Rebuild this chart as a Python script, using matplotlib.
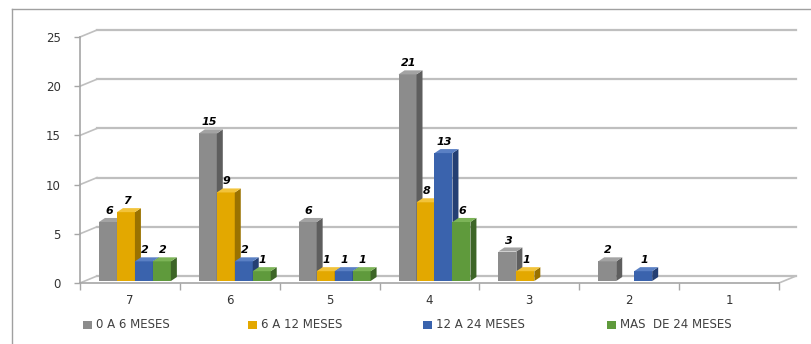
import matplotlib
matplotlib.use("Agg")
import matplotlib.pyplot as plt
from matplotlib.patches import Polygon, Rectangle
from matplotlib.lines import Line2D

# months-of-treatment counts per score group
categories = ["7", "6", "5", "4", "3", "2", "1"]
series_names = ["0 A 6 MESES", "6 A 12 MESES", "12 A 24 MESES", "MAS  DE 24 MESES"]
m0_6 = [6, 15, 6, 21, 3, 2, 0]
m6_12 = [7, 9, 1, 8, 1, 0, 0]
m12_24 = [2, 2, 1, 13, 0, 1, 0]
m24_plus = [2, 1, 1, 6, 0, 0, 0]
yticks = [0, 5, 10, 15, 20, 25]

series = [m0_6, m6_12, m12_24, m24_plus]
front = ["#8c8c8c", "#e3a800", "#3a63ad", "#5f9a3c"]
side = ["#5e5e5e", "#9a7200", "#243f73", "#3d6527"]
top = ["#a3a3a3", "#f2c33a", "#5a80c4", "#7cb457"]

W, H = 811, 344
fig = plt.figure(figsize=(W / 100, H / 100), dpi=100)
ax = fig.add_axes([80 / W, (H - 283) / H, 699 / W, 246 / H])
ax.set_xlim(-0.5, 6.5)
ax.set_ylim(0, 25)

grid_c = "#bfbfbf"
# back wall offset (data units) and bar depth
wdx, wdy = 0.17, 0.71
bdx, bdy = 0.06, 0.41
bx0, by0 = 0.05, 0.2

for v in yticks:
    ax.plot([-0.5 + wdx, 6.5 + wdx], [v + wdy, v + wdy], color=grid_c, lw=1.6,
            clip_on=False, zorder=1)
    ax.plot([-0.5, -0.5 + wdx], [v, v + wdy], color=grid_c, lw=1.2,
            clip_on=False, zorder=1)
ax.plot([6.5, 6.5 + wdx], [0, wdy], color=grid_c, lw=1.2, clip_on=False, zorder=1)

bw = 0.18
offsets = [-0.27, -0.09, 0.09, 0.27]
z = 3
for gi in range(len(categories)):
    for si, vals in enumerate(series):
        v = vals[gi]
        if v == 0:
            continue
        xc = gi + offsets[si] + bx0
        x0, x1 = xc - bw / 2, xc + bw / 2
        y0, y1 = by0, by0 + v
        ax.bar(xc, v, width=bw, bottom=by0, color=front[si], zorder=z, clip_on=False)
        ax.add_patch(Polygon([(x1, y0), (x1 + bdx, y0 + bdy), (x1 + bdx, y1 + bdy), (x1, y1)],
                             closed=True, facecolor=side[si], edgecolor="none",
                             zorder=z, clip_on=False))
        ax.add_patch(Polygon([(x0, y1), (x0 + bdx, y1 + bdy), (x1 + bdx, y1 + bdy), (x1, y1)],
                             closed=True, facecolor=top[si], edgecolor="none",
                             zorder=z, clip_on=False))
        ax.annotate(str(v), (xc, y1), xytext=(1, 11), textcoords="offset pixels",
                    ha="center", va="center", fontsize=8, fontweight="bold",
                    fontstyle="italic", color="black", zorder=20, annotation_clip=False)
        z += 1

for s in ["top", "right"]:
    ax.spines[s].set_visible(False)
for s in ["left", "bottom"]:
    ax.spines[s].set_color("#a6a6a6")
    ax.spines[s].set_linewidth(1.2)

ax.set_yticks(yticks)
ax.set_yticklabels([str(t) for t in yticks])
ax.set_xticks(range(len(categories)))
ax.set_xticklabels(categories)
ax.set_xticks([i - 0.5 for i in range(len(categories) + 1)], minor=True)
ax.tick_params(axis="x", which="major", length=0, pad=8, labelsize=8.5, labelcolor="#333333")
ax.tick_params(axis="x", which="minor", length=5, color="#a6a6a6", width=1)
ax.tick_params(axis="y", length=4, color="#a6a6a6", width=1, pad=10,
               labelsize=8.5, labelcolor="#333333")
ax.patch.set_visible(False)

# chart frame
fig.add_artist(Line2D([12 / W, 12 / W], [0, (H - 9) / H], color="#a0a0a0", lw=1))
fig.add_artist(Line2D([12 / W, 1], [(H - 9) / H, (H - 9) / H], color="#a0a0a0", lw=1))

# legend
leg_x = [83, 248, 423, 607]
leg_y = 325
for name, c, lx in zip(series_names, front, leg_x):
    fig.add_artist(Rectangle((lx / W, (H - leg_y - 4) / H), 9 / W, 8 / H,
                             facecolor=c, edgecolor="none"))
    fig.text((lx + 13) / W, (H - leg_y) / H, name, fontsize=8.5, color="#404040",
             ha="left", va="center")

fig.savefig("out.png", dpi=100)
